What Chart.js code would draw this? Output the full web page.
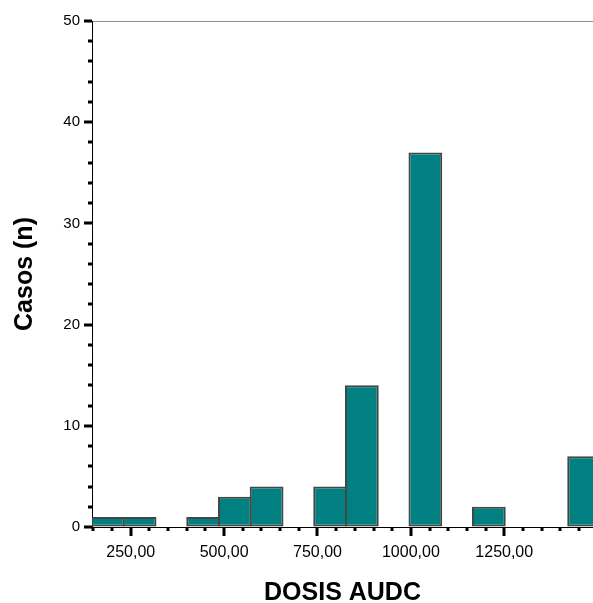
<!DOCTYPE html>
<html>
<head>
<meta charset="utf-8">
<script src="https://cdn.jsdelivr.net/npm/chart.js@4/dist/chart.umd.min.js"></script>
<style>
  html, body { margin: 0; padding: 0; background: #ffffff; }
  #wrap { width: 593px; height: 603px; }
</style>
</head>
<body>
<div id="wrap"><canvas id="c" width="593" height="603"></canvas></div>
<script>
// Histogram bins (centre of each 85-unit bin of DOSIS AUDC) and case counts
const binCenters = [188.8, 273.8, 358.8, 443.8, 528.8, 613.8, 698.8, 783.8, 868.8, 953.8, 1038.8, 1123.8, 1208.8, 1293.8, 1378.8, 1463.8];
const casos      = [1,     1,     null,  1,     3,     4,     null,  4,     14,    null,  37,     null,   2,      null,   null,   7];
const xTickLabels = { 250: '250,00', 500: '500,00', 750: '750,00', 1000: '1000,00', 1250: '1250,00' };
const yTickValues = [0, 10, 20, 30, 40, 50];

const FONT = '"Liberation Sans", Arial, Helvetica, sans-serif';

const tickMarks = {
  id: 'tickMarks',
  afterDraw(chart) {
    const ctx = chart.ctx, xs = chart.scales.x, ys = chart.scales.y, a = chart.chartArea;
    ctx.save();
    ctx.fillStyle = '#000000';
    for (let v = 150; v <= xs.max; v += 50) {
      const px = Math.round(xs.getPixelForValue(v));
      const major = v % 250 === 0;
      ctx.fillRect(px - 1.5, a.bottom, 3, major ? 9 : 4);
    }
    for (let v = 0; v <= 50; v += 2) {
      const py = Math.round(ys.getPixelForValue(v));
      const major = v % 10 === 0;
      ctx.fillRect(a.left - (major ? 8 : 4), py - 1.5, major ? 8 : 4, 3);
    }
    ctx.restore();
  }
};

new Chart(document.getElementById('c'), {
  type: 'bar',
  data: {
    datasets: [{
      data: binCenters.map((x, i) => ({ x: x, y: casos[i] })),
      backgroundColor: '#008080',
      borderColor: '#454545',
      borderWidth: 2,
      borderSkipped: false,
      barPercentage: 1.063,
      categoryPercentage: 1
    }]
  },
  options: {
    responsive: false,
    animation: false,
    devicePixelRatio: 1,
    layout: { padding: { top: 21, right: 0, bottom: 0, left: 0 } },
    plugins: { legend: { display: false }, tooltip: { enabled: false } },
    scales: {
      x: {
        type: 'linear',
        offset: false,
        min: 146.3,
        max: 1487.6,
        grid: { display: false, drawTicks: false, offset: false },
        border: { display: true, color: '#000000', width: 1 },
        ticks: {
          stepSize: 250,
          includeBounds: false,
          autoSkip: false,
          maxRotation: 0,
          padding: 16,
          color: '#000000',
          font: { family: FONT, size: 16 },
          callback: (v) => xTickLabels[v] || ''
        },
        title: {
          display: true,
          text: 'DOSIS AUDC',
          color: '#000000',
          font: { family: FONT, size: 25, weight: 'bold' },
          padding: { top: 0, bottom: -5 }
        },
        afterFit: (s) => { s.height = 76; s.paddingRight = 0; s.paddingLeft = 0; }
      },
      y: {
        min: 0,
        max: 50,
        grid: {
          display: true,
          drawTicks: false,
          color: (c) => (c.tick && c.tick.value === 50 ? '#8c8c8c' : 'rgba(0,0,0,0)'),
          lineWidth: 1
        },
        border: { display: true, color: '#000000', width: 1 },
        afterBuildTicks: (s) => { s.ticks = yTickValues.map(v => ({ value: v })); },
        ticks: {
          padding: 12,
          color: '#000000',
          font: { family: FONT, size: 15 }
        },
        title: {
          display: true,
          text: 'Casos (n)',
          color: '#000000',
          font: { family: FONT, size: 25, weight: 'bold' },
          padding: { top: 10, bottom: 0 }
        },
        afterFit: (s) => { s.width = 92; }
      }
    }
  },
  plugins: [tickMarks]
});
</script>
</body>
</html>
